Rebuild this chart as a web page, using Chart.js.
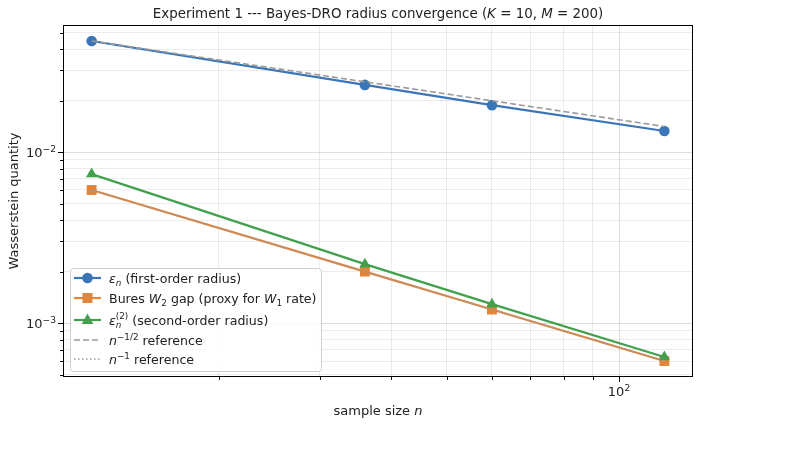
<!DOCTYPE html>
<html><head><meta charset="utf-8">
<script src="https://cdn.jsdelivr.net/npm/chart.js@4/dist/chart.umd.min.js"></script>
<style>html,body{margin:0;padding:0;background:#fff}</style>
</head><body>
<canvas id="c" width="793" height="460"></canvas>
<script>
// ---- data ----
const sampleSizes = [12, 36, 60, 120];
const epsFirst   = [0.0446, 0.0247, 0.0188, 0.01327];
const buresGap   = [0.0060, 0.0020, 0.0012, 0.0006];
const epsSecond  = [0.00743, 0.00221, 0.00129, 0.000633];
const refHalf    = [0.0446, 0.02575, 0.01995, 0.0141];
const refOne     = [0.0060, 0.0020, 0.0012, 0.0006];
const xTickValues = [20, 30, 40, 50, 60, 70, 80, 90, 100];
const xMajor = [100];
const yTickValues = [0.0005,0.0006,0.0007,0.0008,0.0009,0.001,0.002,0.003,0.004,0.005,0.006,0.007,0.008,0.009,0.01,0.02,0.03,0.04,0.05];
const yMajor = [0.001, 0.01];

const FONT = "'DejaVu Sans', 'Liberation Sans', sans-serif";
const FS = 13;
const FS_TITLE = 13.4;
const FS_LEG = 12.6;
const C_BLUE = '#3a75b7', C_ORANGE = '#e3843b', C_GREEN = '#40a04c', C_GRAY = '#9a9a9a';

const pts = ys => sampleSizes.map((x, i) => ({x, y: ys[i]}));

// log margins (5%)
function logRange(vals){
  const lo = Math.log10(Math.min(...vals)), hi = Math.log10(Math.max(...vals));
  const m = (hi - lo) * 0.05;
  return [Math.pow(10, lo - m), Math.pow(10, hi + m)];
}
const [xmin, xmax] = logRange(sampleSizes);
const [ymin, ymax] = logRange([...epsFirst, ...buresGap, ...epsSecond, ...refHalf, ...refOne]);

// rich text
function segWidth(ctx, s, size){
  const sz = s.pos ? size*0.7 : size;
  ctx.font = (s.it ? 'italic ' : '') + sz + 'px ' + FONT;
  let w = ctx.measureText(s.t).width;
  if (s.stack){ ctx.font = (size*0.7) + 'px ' + FONT; w = Math.max(w, ctx.measureText(s.stack).width); }
  return w;
}
function drawRich(ctx, segs, x, y, align, size){
  let total = 0;
  segs.forEach(s => total += segWidth(ctx, s, size));
  let cx = align === 'center' ? x - total/2 : align === 'right' ? x - total : x;
  ctx.textAlign = 'left'; ctx.textBaseline = 'alphabetic';
  segs.forEach(s => {
    const w = segWidth(ctx, s, size);
    const sz = s.pos ? size*0.7 : size;
    ctx.font = (s.it ? 'italic ' : '') + sz + 'px ' + FONT;
    let dy = 0;
    if (s.pos === 'sub') dy = size*0.22;
    if (s.pos === 'sup') dy = -size*0.42;
    ctx.fillText(s.t, cx, y + dy);
    if (s.stack){
      ctx.font = (size*0.7) + 'px ' + FONT;
      ctx.fillText(s.stack, cx, y - size*0.45);
    }
    cx += w;
  });
}

const legendItems = [
  {color: C_BLUE, marker: 'circle', dash: [], lw: 2.2,
   segs: [{t:'ε', it:1},{t:'n', it:1, pos:'sub'},{t:' (first-order radius)'}]},
  {color: C_ORANGE, marker: 'rect', dash: [], lw: 2.2,
   segs: [{t:'Bures '},{t:'W', it:1},{t:'2', pos:'sub'},{t:' gap (proxy for '},{t:'W', it:1},{t:'1', pos:'sub'},{t:' rate)'}]},
  {color: C_GREEN, marker: 'triangle', dash: [], lw: 2.2,
   segs: [{t:'ε', it:1},{t:'n', it:1, pos:'sub', stack:'(2)'},{t:' (second-order radius)'}]},
  {color: C_GRAY, marker: null, dash: [6,3], lw: 1.6,
   segs: [{t:'n', it:1},{t:'−1/2', pos:'sup'},{t:' reference'}]},
  {color: C_GRAY, marker: null, dash: [1.5,2.5], lw: 1.6,
   segs: [{t:'n', it:1},{t:'−1', pos:'sup'},{t:' reference'}]},
];

function drawMarker(ctx, type, x, y, color){
  ctx.fillStyle = color; ctx.strokeStyle = color; ctx.lineWidth = 1; ctx.setLineDash([]);
  ctx.beginPath();
  if (type === 'circle') ctx.arc(x, y, 5.3, 0, Math.PI*2);
  else if (type === 'rect') ctx.rect(x-5, y-5, 10, 10);
  else if (type === 'triangle'){ ctx.moveTo(x, y-6.5); ctx.lineTo(x+5.8, y+4); ctx.lineTo(x-5.8, y+4); ctx.closePath(); }
  ctx.fill();
}

const decor = {
  id: 'decor',
  afterDraw(chart){
    const ctx = chart.ctx, a = chart.chartArea;
    const xs = chart.scales.x, ys = chart.scales.y;
    ctx.save();
    // frame
    ctx.strokeStyle = '#000'; ctx.lineWidth = 1; ctx.setLineDash([]);
    ctx.strokeRect(Math.round(a.left)+0.5, Math.round(a.top)+0.5, Math.round(a.right-a.left)-1, Math.round(a.bottom-a.top)-1);
    // ticks
    ctx.beginPath();
    xTickValues.forEach(v => {
      const px = Math.round(xs.getPixelForValue(v)) + 0.5;
      const len = xMajor.includes(v) ? 5 : 3;
      ctx.moveTo(px, a.bottom); ctx.lineTo(px, a.bottom + len);
    });
    yTickValues.forEach(v => {
      const py = Math.round(ys.getPixelForValue(v)) + 0.5;
      const len = yMajor.includes(v) ? 5 : 3;
      ctx.moveTo(a.left, py); ctx.lineTo(a.left - len, py);
    });
    ctx.stroke();
    ctx.fillStyle = '#222';
    // tick labels
    xMajor.forEach(v => {
      const px = xs.getPixelForValue(v);
      drawRich(ctx, [{t:'10'},{t:String(Math.round(Math.log10(v))), pos:'sup'}], px, a.bottom + 19, 'center', FS);
    });
    yMajor.forEach(v => {
      const py = ys.getPixelForValue(v);
      drawRich(ctx, [{t:'10'},{t:'−' + Math.round(-Math.log10(v)), pos:'sup'}], a.left - 7, py + 5, 'right', FS);
    });
    // title
    drawRich(ctx, [{t:'Experiment 1 --- Bayes-DRO radius convergence ('},{t:'K', it:1},{t:' = 10, '},{t:'M', it:1},{t:' = 200)'}],
      (a.left + a.right)/2, 18, 'center', FS_TITLE);
    // axis titles
    drawRich(ctx, [{t:'sample size '},{t:'n', it:1}], (a.left + a.right)/2, 415, 'center', FS);
    ctx.save();
    ctx.translate(18, (a.top + a.bottom)/2);
    ctx.rotate(-Math.PI/2);
    drawRich(ctx, [{t:'Wasserstein quantity'}], 0, 0, 'center', FS);
    ctx.restore();
    // legend
    const lx = 70, ly = 268, lw = 251, lh = 103;
    ctx.globalAlpha = 0.85; ctx.fillStyle = '#fff';
    ctx.beginPath(); ctx.roundRect(lx+0.5, ly+0.5, lw, lh, 3); ctx.fill();
    ctx.globalAlpha = 1; ctx.strokeStyle = '#cfcfcf'; ctx.lineWidth = 1; ctx.stroke();
    const rows = [278, 298, 320, 340, 359];
    legendItems.forEach((it, i) => {
      const y = rows[i];
      ctx.strokeStyle = it.color; ctx.lineWidth = it.lw; ctx.setLineDash(it.dash);
      ctx.beginPath(); ctx.moveTo(74, y); ctx.lineTo(101, y); ctx.stroke();
      if (it.marker) drawMarker(ctx, it.marker, 87.5, y, it.color);
      ctx.fillStyle = '#222';
      drawRich(ctx, it.segs, 109, y + 5, 'left', FS_LEG);
    });
    ctx.restore();
  }
};

const gridColor = (majors) => (c) => {
  const v = c.tick && c.tick.value;
  return majors.some(m => Math.abs(m - v) / m < 1e-6) ? 'rgba(0,0,0,0.13)' : 'rgba(0,0,0,0.075)';
};

new Chart(document.getElementById('c'), {
  type: 'line',
  data: {
    datasets: [
      {label:'eps_n', data: pts(epsFirst), borderColor: C_BLUE, backgroundColor: C_BLUE, borderWidth: 2.2,
       pointStyle:'circle', pointRadius: 5.3, pointBorderWidth: 0, order: 5},
      {label:'Bures', data: pts(buresGap), borderColor: C_ORANGE, backgroundColor: C_ORANGE, borderWidth: 2.2,
       pointStyle:'rect', pointRadius: 7, pointBorderWidth: 0, order: 4},
      {label:'eps2', data: pts(epsSecond), borderColor: C_GREEN, backgroundColor: C_GREEN, borderWidth: 2.2,
       pointStyle:'triangle', pointRadius: 6.5, pointBorderWidth: 0, order: 3},
      {label:'n^-1/2', data: pts(refHalf), borderColor: C_GRAY, borderWidth: 1.6, borderDash:[6,3],
       pointRadius: 0, order: 2},
      {label:'n^-1', data: pts(refOne), borderColor: C_GRAY, borderWidth: 1.6, borderDash:[1.5,2.5],
       pointRadius: 0, order: 1},
    ]
  },
  options: {
    responsive: false, animation: false, devicePixelRatio: 1,
    layout: {padding: {left: 0, right: 100, top: 25, bottom: 0}},
    plugins: {legend: {display: false}, title: {display: false}, tooltip: {enabled: false}},
    elements: {line: {tension: 0}},
    scales: {
      x: {type: 'logarithmic', min: xmin, max: xmax,
          afterBuildTicks: s => { s.ticks = xTickValues.map(v => ({value: v})); },
          afterFit: s => { s.height = 83; },
          ticks: {display: false},
          border: {display: false},
          grid: {drawTicks: false, tickLength: 0, color: gridColor(xMajor), lineWidth: 1}},
      y: {type: 'logarithmic', min: ymin, max: ymax,
          afterBuildTicks: s => { s.ticks = yTickValues.map(v => ({value: v})); },
          afterFit: s => { s.width = 63; },
          ticks: {display: false},
          border: {display: false},
          grid: {drawTicks: false, tickLength: 0, color: gridColor(yMajor), lineWidth: 1}}
    }
  },
  plugins: [decor]
});
</script>
</body></html>
